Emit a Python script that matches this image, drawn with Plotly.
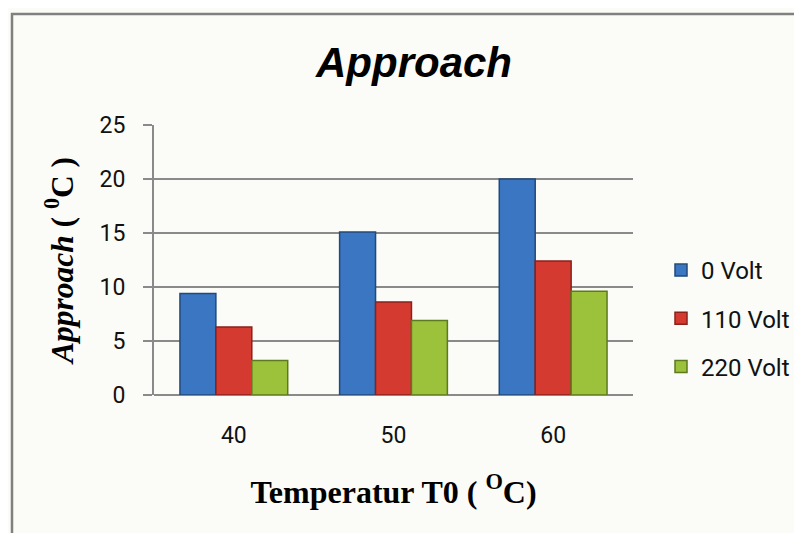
import plotly.graph_objects as go

categories = ["40", "50", "60"]
series_names = ["0 Volt", "110 Volt", "220 Volt"]
volt_0 = [9.4, 15.1, 20.0]
volt_110 = [6.3, 8.6, 12.4]
volt_220 = [3.2, 6.9, 9.6]
y_ticks = [0, 5, 10, 15, 20, 25]

fills = ["#3a76c2", "#d53a30", "#9cc23c"]
edges = ["#23497a", "#8a211b", "#5e7a1e"]

fig = go.Figure()
for i, (name, vals) in enumerate(zip(series_names, [volt_0, volt_110, volt_220])):
    fig.add_trace(go.Bar(
        x=categories, y=vals, name=name,
        legendgroup=name,
        marker=dict(color=fills[i], line=dict(color=edges[i], width=1.5)),
    ))

# page body adds an 8px offset, so figure is 8px smaller and coords shifted
W, H = 794, 525
L, R, T, B = 146, 169, 117, 138
pw, ph = W - L - R, H - T - B

fig.update_layout(
    width=W, height=H,
    margin=dict(l=L, r=R, t=T, b=B, autoexpand=False),
    paper_bgcolor="#fbfbf7",
    plot_bgcolor="#fbfbf7",
    barmode="group",
    bargap=0.325,
    bargroupgap=0,
    title=dict(
        text="<b><i>Approach</i></b>",
        font=dict(family="Liberation Sans, Arial", size=42, color="#000000"),
        x=406 / W, xref="container", xanchor="center",
        y=1 - 54 / H, yref="container", yanchor="middle",
    ),
    legend=dict(
        x=(653 - L) / pw, xanchor="left",
        y=(387 - 240) / ph, yanchor="top",
        font=dict(family="Roboto", size=24, color="#111111"),
        bgcolor="rgba(0,0,0,0)",
        traceorder="grouped",
        tracegroupgap=14,
        itemwidth=30,
    ),
    showlegend=True,
    shapes=[dict(
        type="rect", xref="paper", yref="paper",
        x0=(4 - L) / pw, x1=(815 - L) / pw,
        y0=(387 - 545) / ph, y1=(387 - 6) / ph,
        line=dict(color="#808080", width=2.5),
        fillcolor="rgba(0,0,0,0)", layer="below",
    )],
)

fig.update_xaxes(
    type="category",
    showgrid=False,
    showline=False,
    ticks="",
    tickfont=dict(family="Roboto", size=23, color="#111111"),
    ticklabelstandoff=24,
    title=dict(
        text="<b>Temperatur T0 ( <sup>O</sup>C)</b>",
        font=dict(family="Liberation Serif, Times New Roman", size=32, color="#000000"),
        standoff=32,
    ),
)
fig.update_yaxes(
    range=[0, 25],
    tickvals=y_ticks,
    ticktext=[str(v) for v in y_ticks],
    showgrid=True, gridcolor="#8a8a8a", gridwidth=2,
    zeroline=True, zerolinecolor="#8a8a8a", zerolinewidth=2,
    showline=True, linecolor="#8a8a8a", linewidth=2,
    ticks="outside", ticklen=9, tickcolor="#8a8a8a", tickwidth=2,
    tickfont=dict(family="Roboto", size=23, color="#111111"),
    ticklabelstandoff=13,
    title=dict(
        text="<b><i>Approach</i> ( <sup>0</sup>C )</b>",
        font=dict(family="Liberation Serif, Times New Roman", size=31.5, color="#000000"),
        standoff=17,
    ),
)

fig.write_html("out.html")
